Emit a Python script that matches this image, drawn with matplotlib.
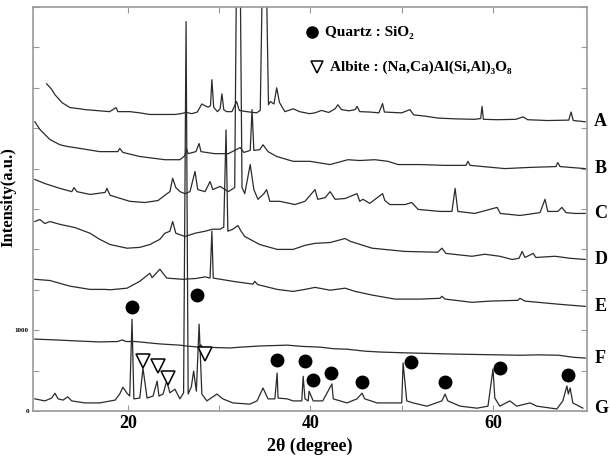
import matplotlib
matplotlib.use('Agg')
import matplotlib.pyplot as plt

plt.rcParams['font.family'] = ['Liberation Serif', 'DejaVu Serif']
plt.rcParams['font.weight'] = 'bold'

# XRD patterns, 2theta (degree) vs intensity (counts)
a_x = [11.1, 11.65, 12.0, 12.8, 13.65, 14.75, 15.3, 16.4, 16.9, 18.0, 18.7, 18.9, 19.7, 20.2, 21.3, 22.4, 23.5,
       25.15, 25.8, 26.4, 27.0, 27.6, 28.1, 28.4, 28.8, 29.05, 29.2, 29.4, 29.8, 30.1, 30.3, 30.5, 30.8, 31.4,
       31.9, 32.2, 33.0, 34.1, 34.5, 34.75, 35.15, 35.4, 35.6, 36.0, 36.3, 36.6, 36.9, 37.2, 37.6, 38.1, 38.8,
       39.9, 40.5, 41.2, 42.0, 42.7, 43.0, 43.4, 44.2, 44.9, 45.1, 45.4, 46.5, 47.5, 47.9, 48.1, 49.0, 50.0,
       50.9, 51.3, 52.5, 54.0, 56.0, 58.0, 58.65, 58.8, 58.95, 60.5, 62.5, 63.3, 63.8, 66.0, 68.3, 68.55, 68.8,
       70.1]
a_y = [4050, 3980, 3915, 3815, 3755, 3740, 3730, 3720, 3715, 3705, 3755, 3705, 3705, 3705, 3690, 3670, 3670,
       3670, 3680, 3695, 3680, 3700, 3800, 3780, 3760, 3780, 4100, 3760, 3705, 3740, 3925, 3730, 3705, 3705,
       3830, 3720, 3705, 3690, 3720, 5500, 5500, 3790, 3830, 3800, 4000, 3820, 3760, 3705, 3720, 3740, 3705,
       3680, 3690, 3720, 3695, 3740, 3790, 3730, 3715, 3730, 3770, 3705, 3700, 3690, 3805, 3700, 3695, 3690,
       3730, 3665, 3650, 3625, 3615, 3610, 3620, 3770, 3610, 3605, 3610, 3640, 3605, 3595, 3600, 3700, 3595,
       3580]

b_x = [9.8, 10.35, 11.45, 12.55, 13.3, 14.75, 16.9, 18.9, 19.1, 19.45, 21.3, 24.05, 25.7, 26.25, 26.4, 26.6,
       27.45, 27.8, 28.0, 29.5, 31.0, 32.3, 32.7, 33.4, 33.6, 33.8, 34.45, 34.8, 35.35, 36.3, 38.1, 39.95,
       42.15, 44.1, 45.4, 47.05, 48.5, 49.6, 52.0, 54.75, 57.05, 57.25, 57.5, 61.3, 64.05, 66.9, 67.1, 67.35,
       70.1]
b_y = [3580, 3485, 3360, 3295, 3275, 3250, 3210, 3210, 3250, 3200, 3150, 3110, 3110, 3160, 3250, 3185,
       3210, 3310, 3210, 3185, 3185, 3260, 3200, 3225, 3730, 3225, 3235, 3295, 3210, 3150, 3090, 3090,
       3050, 3110, 3100, 3110, 3090, 3050, 3050, 3040, 3040, 3090, 3040, 3000, 3015, 3025, 3075, 3025,
       3000]

c_x = [9.8, 10.9, 12.55, 13.85, 14.1, 14.4, 15.85, 17.5, 17.7, 18.05, 20.2, 21.85, 23.3, 24.05, 24.6, 24.9,
       25.25, 25.7, 26.25, 26.8, 27.35, 27.65, 28.45, 29.0, 29.3, 30.1, 31.0, 31.7, 31.9, 32.3, 32.5, 32.8,
       33.4, 33.8, 34.25, 34.9, 35.2, 35.55, 36.65, 38.3, 39.4, 40.5, 40.8, 41.6, 42.15, 42.7, 43.8, 45.1,
       45.4, 45.75, 46.5, 47.9, 48.15, 48.7, 50.35, 51.1, 51.8, 54.2, 55.5, 55.85, 56.15, 58.0, 60.45, 60.8,
       62.95, 65.15, 65.7, 66.0, 67.1, 67.55, 68.0, 69.0, 70.1]
c_y = [2865, 2815, 2755, 2715, 2765, 2715, 2680, 2705, 2755, 2670, 2595, 2580, 2605, 2670, 2715, 2880,
       2765, 2715, 2690, 2715, 2965, 2740, 2715, 2840, 2740, 2780, 2715, 2765, 5500, 5500, 2765, 2690,
       3050, 2740, 2620, 2690, 2740, 2595, 2595, 2555, 2595, 2740, 2620, 2640, 2715, 2620, 2630, 2690,
       2595, 2620, 2570, 2690, 2605, 2555, 2555, 2580, 2495, 2470, 2470, 2755, 2470, 2445, 2520, 2445,
       2420, 2455, 2620, 2470, 2470, 2520, 2455, 2445, 2445]

d_x = [9.8, 10.35, 10.9, 11.45, 12.55, 14.2, 15.85, 16.9, 18.05, 19.9, 21.3, 22.4, 23.5, 24.05, 24.6, 24.9,
       25.25, 26.25, 27.35, 28.45, 29.3, 30.1, 30.5, 30.75, 30.95, 31.5, 32.05, 32.4, 32.8, 34.45, 36.35,
       38.1, 39.4, 40.5, 42.15, 43.8, 44.35, 46.75, 50.35, 53.95, 54.4, 54.85, 57.7, 59.1, 60.75, 62.1,
       62.85, 63.2, 63.5, 64.4, 64.7, 66.8, 68.45, 70.1]
d_y = [2345, 2370, 2320, 2345, 2310, 2270, 2200, 2125, 2060, 2015, 2025, 2060, 2125, 2200, 2225, 2345,
       2200, 2160, 2200, 2225, 2250, 2250, 2275, 3480, 2225, 2250, 2295, 2225, 2160, 2060, 2000,
       2000, 2050, 2075, 2085, 2135, 2100, 2015, 1975, 1965, 2015, 1950, 1915, 1940, 1915, 1875,
       1890, 1975, 1900, 1950, 1900, 1915, 1890, 1875]

e_x = [9.8, 11.45, 13.65, 15.85, 17.5, 18.05, 19.9, 21.3, 22.4, 22.65, 23.5, 24.25, 26.0, 27.45, 28.45, 29.0,
       29.2, 29.35, 31.5, 33.7, 33.9, 34.2, 36.35, 38.1, 39.4, 40.5, 42.15, 43.8, 44.9, 46.75, 49.25, 52.0,
       54.2, 54.4, 54.75, 57.7, 59.65, 62.75, 62.95, 63.5, 64.95, 67.35, 70.1]
e_y = [1630, 1615, 1545, 1505, 1505, 1500, 1520, 1605, 1705, 1650, 1755, 1645, 1630, 1640, 1660, 1645,
       2225, 1645, 1605, 1570, 1605, 1565, 1505, 1480, 1505, 1530, 1495, 1520, 1480, 1435, 1385, 1385,
       1395, 1420, 1385, 1345, 1360, 1370, 1395, 1360, 1345, 1320, 1295]

f_x = [9.8, 12.0, 14.75, 16.9, 18.9, 19.35, 19.8, 20.8, 23.5, 25.7, 26.35, 27.8, 27.95, 28.2, 31.2, 32.3,
       34.5, 37.5, 39.0, 41.1, 42.6, 44.0, 46.0, 47.6, 50.3, 52.0, 55.5, 58.0, 60.5, 63.0, 65.0, 67.2, 68.8,
       69.5, 70.1]
f_y = [890, 880, 865, 855, 860, 880, 860, 860, 830, 815, 805, 790, 820, 790, 780, 790,
       805, 815, 800, 790, 770, 765, 740, 730, 720, 715, 705, 700, 695, 690, 695, 690, 665,
       660, 655]

g_x = [9.8, 10.9, 11.65, 12.0, 12.35, 12.9, 13.4, 13.85, 15.3, 16.9, 18.6, 19.1, 19.45, 19.9, 20.2, 20.45,
       20.65, 21.3, 21.65, 22.1, 22.75, 23.2, 23.4, 23.85, 24.25, 24.6, 25.15, 25.7, 26.1, 26.37, 26.6, 26.95,
       27.2, 27.5, 27.8, 28.1, 28.65, 29.75, 30.4, 31.5, 33.35, 34.15, 34.8, 35.35, 36.1, 36.35, 36.45, 37.45,
       38.1, 39.05, 39.2, 39.4, 39.75, 39.85, 40.3, 41.35, 42.35, 42.5, 44.0, 45.1, 45.65, 45.95, 47.3, 48.7,
       50.0, 50.15, 50.55, 51.25, 52.75, 53.4, 54.4, 54.75, 55.05, 56.4, 58.25, 59.45, 60.0, 60.2, 60.75,
       61.85, 62.6, 64.05, 64.8, 67.0, 67.65, 68.1, 68.25, 68.45, 68.75, 69.85]
g_y = [150, 125, 160, 220, 150, 135, 175, 125, 100, 100, 135, 210, 295, 220, 185, 1135,
       150, 160, 530, 160, 185, 370, 185, 210, 370, 225, 270, 150, 225, 4820, 210, 300,
       495, 245, 1075, 210, 125, 210, 150, 100, 85, 125, 285, 150, 150, 470, 160, 150,
       125, 125, 430, 150, 125, 245, 125, 125, 335, 150, 100, 150, 220, 150, 100, 100,
       100, 595, 125, 100, 60, 85, 125, 210, 125, 60, 35, 60, 520, 160, 60,
       125, 60, 100, 60, 25, 125, 310, 210, 285, 100, 35]

sample_names = ["A", "B", "C", "D", "E", "F", "G"]

# phase markers on pattern G
quartz_x = [20.5, 27.6, 36.3, 39.4, 40.3, 42.2, 45.6, 51.0, 54.7, 60.8, 68.2]
quartz_y = [1285, 1435, 630, 620, 385, 470, 360, 605, 360, 530, 445]
albite_x = [21.6, 23.3, 24.4, 28.4]
albite_y = [620, 555, 410, 705]

traces = [(a_x, a_y), (b_x, b_y), (c_x, c_y), (d_x, d_y), (e_x, e_y), (f_x, f_y), (g_x, g_y)]

fig = plt.figure(figsize=(6.1, 4.59), dpi=100)
ax = fig.add_axes([33 / 610, 1 - 411 / 459, 554 / 610, 404 / 459])

for name, (xs, ys) in zip(sample_names, traces):
    ax.plot(xs, ys, color='#2b2b2b', lw=0.9)
    ax.text(1.013, ys[-1], name, transform=ax.get_yaxis_transform(),
            ha='left', va='center', fontsize=13, fontweight='bold')

ax.plot(quartz_x, quartz_y, 'o', color='black', ms=9, zorder=3)
ax.plot(albite_x, albite_y, 'v', mfc='white', mec='black', ms=10, mew=1.1, zorder=3)

# legend written by hand, as in the original
ax.plot([0.504], [0.938], 'o', color='black', ms=8, transform=ax.transAxes)
ax.text(0.527, 0.938, "Quartz : SiO₂", transform=ax.transAxes, va='center', fontsize=11, fontweight='bold')
ax.plot([0.513], [0.851], 'v', mfc='white', mec='black', ms=9, mew=1.1, transform=ax.transAxes)
ax.text(0.536, 0.851, "Albite : (Na,Ca)Al(Si,Al)₃O₈", transform=ax.transAxes, va='center',
        fontsize=11, fontweight='bold')

ax.set_xlim(9.6, 70.3)
ax.set_ylim(0, 5000)
ax.set_xticks([20, 30, 40, 50, 60])
ax.set_xticklabels(["20", "", "40", "", "60"], fontsize=13, fontweight='bold')
ax.set_yticks(range(0, 5001, 500))
ax.set_yticklabels(["0", "", "1000"] + [""] * 8, fontsize=5)
ax.tick_params(direction='in', length=4, color='#999999', top=True, right=True, pad=3)
for sp in ax.spines.values():
    sp.set_color('#999999')
    sp.set_linewidth(1.2)

ax.set_xlabel("2θ (degree)", fontsize=13, fontweight='bold', labelpad=4)
ax.set_ylabel("Intensity(a.u.)", fontsize=12, fontweight='bold')
ax.yaxis.set_label_coords(-0.03, 0.53)

fig.savefig('out.png', dpi=100)
